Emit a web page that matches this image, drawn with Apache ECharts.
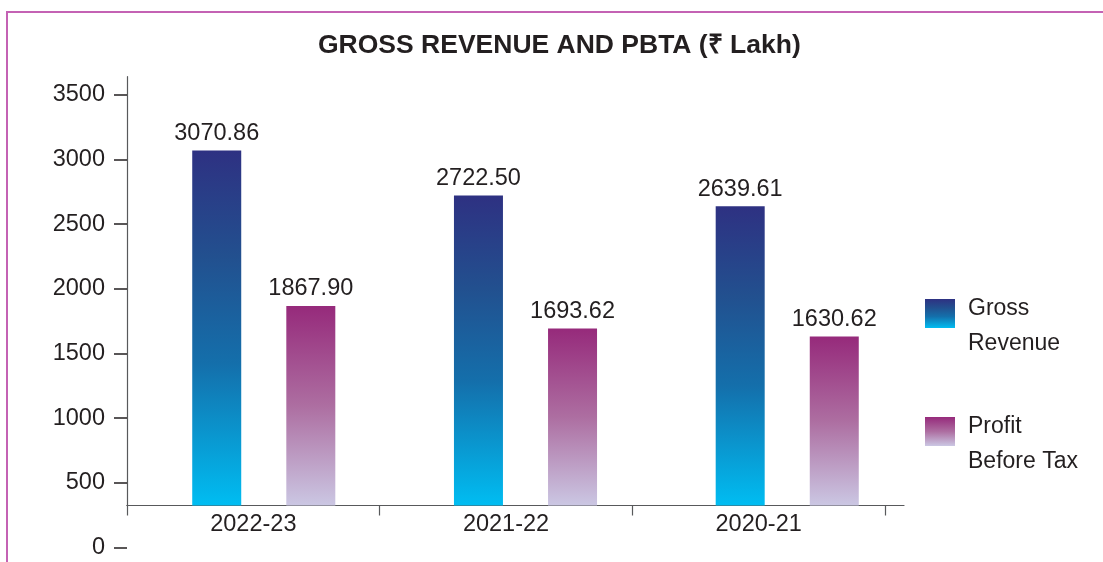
<!DOCTYPE html>
<html><head><meta charset="utf-8">
<script src="https://cdn.jsdelivr.net/npm/echarts@6/dist/echarts.min.js"></script>
<style>
html,body{margin:0;padding:0;background:#fff;}
body{width:1103px;height:562px;overflow:hidden;position:relative;}
#frame{position:absolute;left:6px;top:11px;width:1200px;height:700px;border-top:2px solid #c462b4;border-left:2px solid #c462b4;}
#chart{position:absolute;left:0;top:0;width:1103px;height:562px;}
</style></head><body>
<div id="frame"></div><div id="chart"></div>
<script>
const categories = ['2022-23', '2021-22', '2020-21'];
const grossRevenue = [3070.86, 2722.50, 2639.61];
const profitBeforeTax = [1867.90, 1693.62, 1630.62];
const seriesNames = ['Gross Revenue', 'Profit Before Tax'];
const legendLines = { 'Gross Revenue': ['Gross', 'Revenue'], 'Profit Before Tax': ['Profit', 'Before Tax'] };
const yTickMin = 0, yTickMax = 3500, yTickStep = 500;
const titleText = 'GROSS REVENUE AND PBTA (₹ Lakh)';

const FONT = 'Liberation Sans, Arial, Helvetica, sans-serif';
const TXT = '#231f20';
const AX = '#58595b';
const plotMin = 323, plotMax = 3642;

const chart = echarts.init(document.getElementById('chart'), null, { renderer: 'canvas' });
const grossGrad = new echarts.graphic.LinearGradient(0, 0, 0, 1, [
  { offset: 0, color: '#2e3182' }, { offset: 0.3, color: '#22508f' },
  { offset: 0.6, color: '#146fab' }, { offset: 1, color: '#00bdf2' }]);
const pbtGrad = new echarts.graphic.LinearGradient(0, 0, 0, 1, [
  { offset: 0, color: '#962a7b' }, { offset: 0.5, color: '#ad6ea1' },
  { offset: 1, color: '#cbc7e3' }]);

const labelStyle = { show: true, position: 'top', distance: 5, fontSize: 23.5, fontFamily: FONT, color: TXT,
  formatter: p => Number(p.value).toFixed(2) };

chart.setOption({
  animation: false,
  backgroundColor: 'transparent',
  textStyle: { fontFamily: FONT },
  title: { text: titleText, left: 313, top: 27,
    textStyle: { fontSize: 26.5, fontWeight: 'bold', color: TXT, fontFamily: FONT } },
  legend: {
    orient: 'vertical', left: 925, top: 273.5, padding: 0, itemWidth: 30, itemHeight: 29, itemGap: 36,
    icon: 'rect', data: seriesNames,
    formatter: n => '{s| }\n' + legendLines[n].map(l => '{t|' + l + '}').join('\n'),
    textStyle: { fontSize: 23, color: TXT, fontFamily: FONT, padding: [0, 0, 0, 8],
      rich: { s: { fontSize: 10, lineHeight: 26 }, t: { fontSize: 23, lineHeight: 35, color: TXT, fontFamily: FONT } } }
  },
  grid: [
    { left: 127, right: 199, top: 76.7, bottom: 56.5 },
    { left: 127, right: 218, top: 76.7, bottom: 56.5 },
    { left: 132.9, right: 184.9, top: 76.7, bottom: 56.5 },
    { left: 127, right: 218, top: 95, bottom: 14.7 }
  ],
  xAxis: [
    { gridIndex: 0, type: 'value', min: 0, max: 1, axisLine: { show: true, onZero: false, lineStyle: { color: AX, width: 1.2 } },
      axisTick: { show: false }, axisLabel: { show: false }, splitLine: { show: false } },
    { gridIndex: 1, type: 'category', data: categories, axisLine: { show: true, onZero: false, lineStyle: { color: AX, width: 1.2 } },
      axisTick: { show: true, length: 10, lineStyle: { color: AX, width: 1.2 } },
      axisLabel: { fontSize: 23.5, color: TXT, fontFamily: FONT, margin: 7 }, splitLine: { show: false } },
    { gridIndex: 2, type: 'category', data: categories, show: false },
    { gridIndex: 3, type: 'value', show: false }
  ],
  yAxis: [
    { gridIndex: 0, type: 'value', min: plotMin, max: plotMax, axisLine: { show: true, onZero: false, lineStyle: { color: AX, width: 1.2 } },
      axisTick: { show: false }, axisLabel: { show: false }, splitLine: { show: false } },
    { gridIndex: 1, type: 'value', min: plotMin, max: plotMax, show: false },
    { gridIndex: 2, type: 'value', min: plotMin, max: plotMax, show: false },
    { gridIndex: 3, type: 'value', min: yTickMin, max: yTickMax, interval: yTickStep,
      axisLine: { show: false }, axisTick: { show: true, length: 13, lineStyle: { color: TXT, width: 1.5 } },
      axisLabel: { fontSize: 23.5, color: TXT, fontFamily: FONT, margin: 22, formatter: v => String(v) },
      splitLine: { show: false } }
  ],
  series: [
    { name: seriesNames[0], type: 'bar', xAxisIndex: 2, yAxisIndex: 2, data: grossRevenue, barWidth: 49, barGap: '92%',
      itemStyle: { color: grossGrad }, label: labelStyle, clip: true },
    { name: seriesNames[1], type: 'bar', xAxisIndex: 2, yAxisIndex: 2, data: profitBeforeTax, barWidth: 49, barGap: '92%',
      itemStyle: { color: pbtGrad }, label: labelStyle, clip: true }
  ]
});
</script>
</body></html>
